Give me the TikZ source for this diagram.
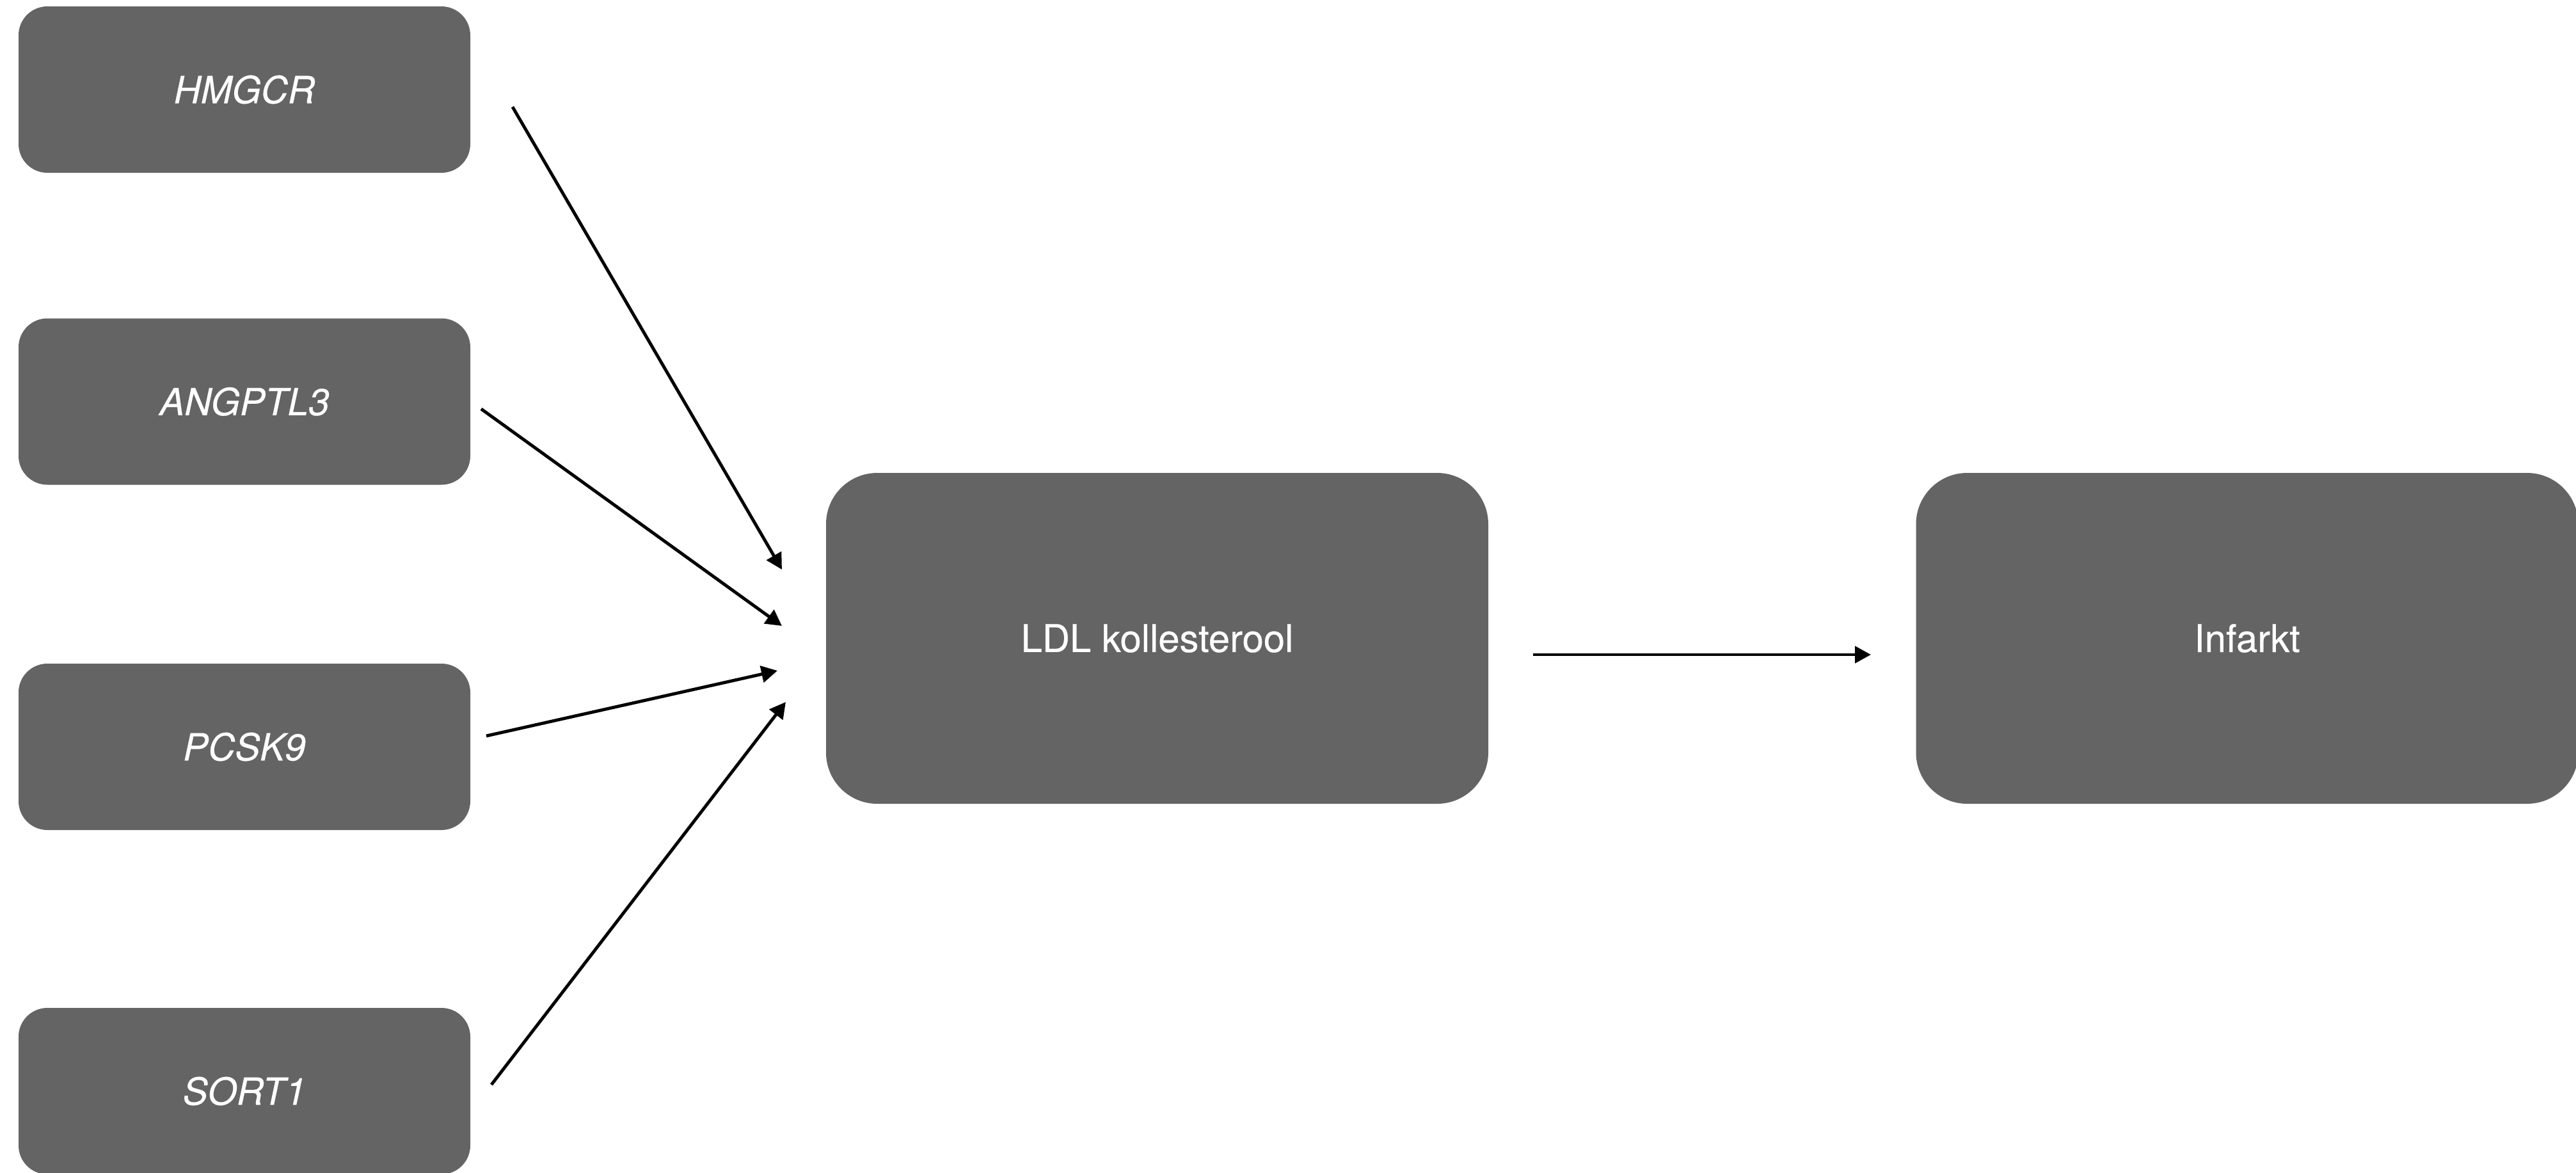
\documentclass[tikz,border=0pt]{standalone}
\usepackage{fontspec}
\setmainfont{TeX Gyre Heros}
\newfontfamily\medfont[FakeBold=0.4]{TeX Gyre Heros}
\usetikzlibrary{arrows.meta}
\definecolor{boxgray}{HTML}{646464}
\tikzset{
  genebox/.style={fill=boxgray, draw=none, rounded corners=0.45cm, inner sep=0pt,
    minimum width=7.06cm, minimum height=2.60cm, text=white,
    font=\medfont\fontsize{16.6}{20}\selectfont\itshape},
  bigbox/.style={fill=boxgray, draw=none, rounded corners=0.8cm, inner sep=0pt,
    minimum width=10.35cm, minimum height=5.17cm, text=white,
    font=\medfont\fontsize{17}{20}\selectfont},
  conn/.style={line width=1.4pt, -{Triangle[length=0.25cm,width=0.26cm]}}
}
\begin{document}
\begin{tikzpicture}
\useasboundingbox (0,0) rectangle (40.26,-18.32);
\node[genebox] (hmgcr) at (3.82,-1.40) {HMGCR};
\node[genebox] (angptl) at (3.82,-6.275) {ANGPTL3};
\node[genebox] (pcsk) at (3.82,-11.67) {PCSK9};
\node[genebox] (sort) at (3.82,-17.05) {SORT1};
\node[bigbox] (ldl) at (18.085,-9.975) {LDL kollesterool};
\node[bigbox] (inf) at (35.12,-9.975) {Infarkt};
\coordinate (h1) at (8.01,-1.67);
\coordinate (h2) at (12.22,-8.90);
\coordinate (a1) at (7.52,-6.39);
\coordinate (a2) at (12.22,-9.78);
\coordinate (p1) at (7.60,-11.50);
\coordinate (p2) at (12.15,-10.48);
\coordinate (s1) at (7.68,-16.95);
\coordinate (s2) at (12.28,-10.97);
\coordinate (l1) at (23.96,-10.23);
\coordinate (l2) at (29.24,-10.23);
\draw[conn] (h1) -- (h2);
\draw[conn] (a1) -- (a2);
\draw[conn] (p1) -- (p2);
\draw[conn] (s1) -- (s2);
\draw[conn] (l1) -- (l2);
\end{tikzpicture}
\end{document}
